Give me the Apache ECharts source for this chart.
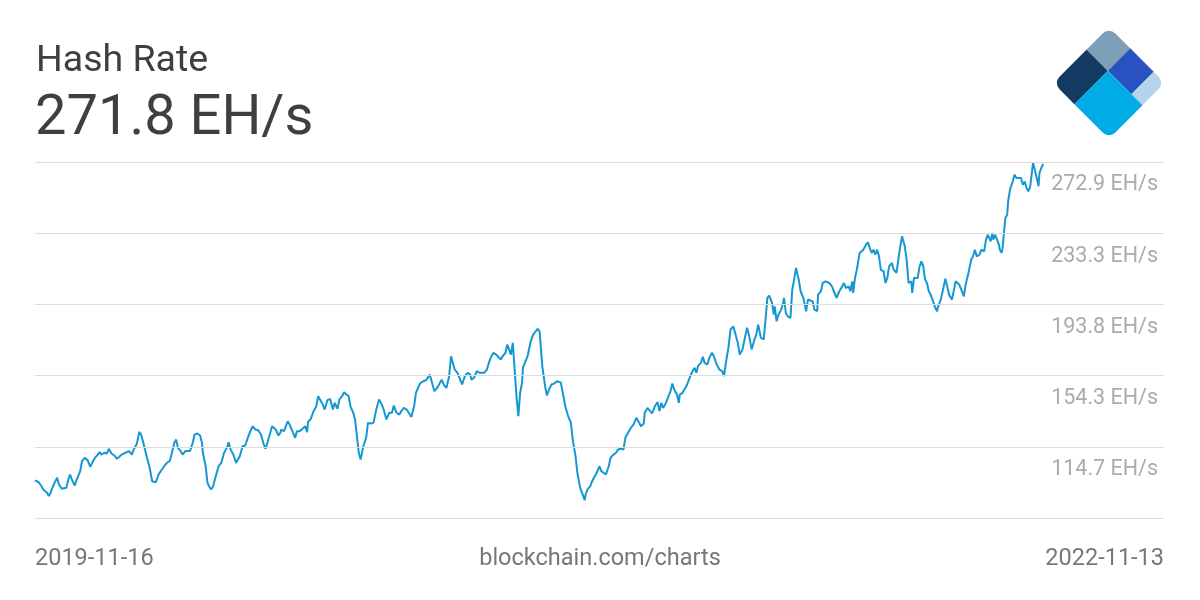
<!DOCTYPE html>
<html>
<head>
<meta charset="utf-8">
<script src="https://cdn.jsdelivr.net/npm/echarts@6/dist/echarts.min.js"></script>
<style>
html,body{margin:0;padding:0;background:#fff;}
#chart{width:1200px;height:600px;}
</style>
</head>
<body>
<div id="chart"></div>
<script>
// ---- data ----
const chartTitle = 'Hash Rate';
const currentValue = '271.8 EH/s';
const startDate = '2019-11-16';
const xLabels = ['2019-11-16', '2022-11-13'];
const sourceLabel = 'blockchain.com/charts';
// days since startDate
const dayOffsets = [0,4,5,7,9,11,13,15,17,19,22,24,26,29,31,34,36,38,40,43,46,49,51,54,57,60,62,65,68,70,72,75,78,80,83,86,89,91,94,98,100,102,105,107,110,111,113,115,117,121,124,127,129,131,134,137,140,143,146,148,151,153,155,158,160,163,165,168,171,173,176,179,181,182,185,187,189,191,193,195,199,202,205,208,210,212,215,218,220,222,225,228,230,233,236,239,242,245,248,250,252,254,257,259,261,264,266,267,270,274,276,279,282,284,287,290,293,295,296,299,302,305,307,309,312,314,317,320,323,325,328,330,333,335,337,340,342,345,347,349,351,353,356,359,361,364,367,370,373,376,378,381,384,387,389,392,395,397,400,403,405,408,411,413,416,418,421,424,426,428,430,433,436,438,441,443,446,449,451,453,455,458,461,463,466,469,472,473,476,479,482,484,487,490,492,494,497,500,502,505,507,510,512,514,516,518,520,522,524,526,528,529,531,534,537,540,542,545,547,548,550,553,555,558,560,563,566,568,570,572,575,578,581,583,586,588,591,593,596,597,599,602,604,606,609,612,614,616,619,622,624,627,630,632,635,638,640,643,646,649,652,654,657,660,661,664,667,669,672,675,677,679,681,684,686,689,691,693,696,698,699,702,705,707,709,712,715,717,719,722,724,726,729,731,734,736,739,742,745,747,749,752,754,757,759,762,764,767,770,772,774,777,780,782,784,787,790,792,794,796,799,801,802,804,806,809,811,812,814,816,819,821,823,825,828,830,833,836,838,840,843,845,848,849,852,854,857,859,861,864,866,869,872,875,877,879,882,884,886,887,889,891,894,896,898,901,903,905,907,909,911,913,915,917,920,922,924,926,929,931,934,935,937,939,940,943,945,947,950,951,953,955,957,959,961,963,965,967,969,971,973,976,978,979,982,984,987,989,991,994,996,998,1000,1002,1005,1007,1009,1012,1015,1017,1019,1021,1024,1026,1028,1029,1031,1033,1036,1038,1039,1041,1043,1045,1046,1048,1049,1051,1052,1054,1055,1057,1059,1060,1062,1064,1066,1069,1071,1073,1075,1077,1079,1080,1082,1084,1086,1088,1089,1091,1093];
// EH/s
const hashRate = [96.0,95.0,95.4,92.8,91.0,91.5,89.2,87.3,89.3,92.1,95.6,97.5,93.8,91.4,90.6,91.9,96.5,99.3,96.5,93.2,97.5,101.2,106.7,108.6,107.3,103.6,105.8,108.6,110.4,111.7,110.4,111.4,111.0,113.6,111.0,109.9,108.0,107.6,110.4,111.4,110.4,112.3,110.4,113.2,116.0,117.8,123.0,121.5,117.8,109.5,103.9,95.6,94.7,95.0,99.3,101.7,103.9,105.8,106.7,110.4,116.9,118.7,114.1,112.3,110.4,112.3,111.4,112.3,116.9,121.5,122.1,121.0,116.9,111.4,103.9,94.7,92.5,91.0,92.7,96.5,103.9,105.8,111.4,114.1,117.2,113.2,110.4,105.8,105.8,109.5,115.0,115.4,118.7,122.8,126.1,124.3,123.9,121.5,116.0,113.6,114.1,120.6,126.1,127.1,124.3,121.0,122.5,124.3,123.4,128.9,127.1,123.4,119.7,123.4,123.4,124.7,126.1,122.8,128.4,130.2,134.5,137.2,142.8,143.7,138.2,135.4,140.6,141.3,135.4,139.1,135.8,141.0,142.8,145.0,146.1,142.8,137.2,133.6,129.9,120.6,111.4,107.6,115.0,119.7,128.0,127.6,128.0,135.4,141.0,138.2,135.4,129.9,133.6,133.6,137.6,133.6,132.6,134.5,136.3,135.4,136.3,131.3,137.2,144.7,148.3,150.2,151.1,151.7,152.0,154.8,151.1,145.6,147.4,149.3,152.0,149.3,147.4,153.9,165.0,164.1,157.6,155.8,152.0,149.3,153.9,155.8,154.8,152.0,153.0,156.7,155.8,154.8,155.8,157.6,161.3,164.1,166.9,165.9,165.0,163.2,165.0,166.9,171.5,168.7,165.9,172.4,157.6,142.8,131.7,144.7,150.2,158.7,157.6,165.0,172.4,177.0,178.0,180.2,178.9,172.4,159.4,148.3,143.2,147.4,149.3,149.8,151.1,152.0,150.5,150.5,137.2,131.7,128.0,118.7,109.5,100.3,91.9,89.2,85.1,88.2,91.0,92.8,95.6,97.5,100.3,103.9,101.2,100.3,99.3,103.9,108.6,110.4,111.4,113.2,113.6,113.2,119.7,122.5,125.2,127.1,130.8,129.9,126.1,127.6,133.6,136.3,134.5,133.2,137.2,139.5,134.5,139.1,136.3,139.1,140.0,145.6,149.8,146.5,143.7,139.1,143.7,144.7,147.4,149.3,152.0,155.8,158.6,155.8,159.8,161.3,164.7,161.3,160.4,164.1,166.9,165.0,160.4,157.6,156.7,153.9,161.3,170.5,179.8,181.6,178.0,172.4,165.9,168.7,176.1,180.8,177.0,168.7,174.3,177.0,182.6,175.2,174.3,185.4,197.4,198.7,194.6,188.1,192.7,184.4,188.1,190.9,194.6,197.4,189.1,187.2,186.3,202.0,207.6,214.1,207.6,201.1,197.4,190.0,196.5,197.4,195.5,190.9,190.0,199.2,201.1,205.7,206.6,207.6,205.7,203.8,201.1,197.4,201.1,203.8,205.7,202.9,203.8,201.1,206.6,200.2,208.5,213.1,222.4,221.4,224.2,227.0,228.3,225.2,222.4,224.2,221.4,224.2,220.5,213.1,212.2,205.7,208.5,214.9,216.8,213.1,211.3,210.3,222.4,228.8,231.6,226.1,218.7,205.7,206.6,200.2,208.5,207.6,208.5,214.9,217.7,214.9,207.6,205.7,201.1,199.2,196.5,191.9,190.0,192.4,196.5,201.1,208.0,203.8,199.2,196.5,201.1,206.6,207.6,204.8,201.1,198.3,204.8,211.3,218.7,220.5,224.2,220.5,221.4,224.2,225.2,223.3,229.8,232.5,228.8,233.5,229.8,232.5,229.8,227.0,224.2,222.4,225.2,236.3,241.8,243.6,251.0,257.5,258.5,262.1,265.9,264.0,264.9,264.0,260.3,262.1,258.5,256.6,259.4,264.0,272.3,268.6,269.6,259.4,266.8,269.6,271.8];
// horizontal reference lines and their labels
const gridValues = [272.9, 233.3, 193.8, 154.3, 114.7, 75.15];
const tickLabels = ['272.9 EH/s', '233.3 EH/s', '193.8 EH/s', '154.3 EH/s', '114.7 EH/s'];

// ---- chart ----
const DAY = 86400000;
const [sy, sm, sd] = startDate.split('-').map(Number);
const t0 = Date.UTC(sy, sm - 1, sd);
const seriesData = dayOffsets.map((d, i) => [t0 + d * DAY, hashRate[i]]);

const FONT = 'Roboto, "Noto Sans", sans-serif';
const chart = echarts.init(document.getElementById('chart'), null, {renderer: 'canvas'});

const S = 79; // logo square side
const LC = {x: 1109 - S / Math.SQRT2, y: 83};

chart.setOption({
  animation: false,
  backgroundColor: '#ffffff',
  grid: {left: 35, right: 36, top: 162, height: 356, containLabel: false},
  xAxis: {
    type: 'time',
    min: t0,
    max: t0 + 1224 * DAY,
    show: false
  },
  yAxis: {
    type: 'value',
    min: gridValues[gridValues.length - 1],
    max: gridValues[0],
    show: false
  },
  series: [{
    type: 'line',
    data: seriesData,
    showSymbol: false,
    symbol: 'none',
    lineStyle: {color: '#1597d1', width: 2},
    z: 3,
    markLine: {
      silent: true,
      symbol: 'none',
      animation: false,
      precision: 2,
      lineStyle: {color: '#dcdcdc', width: 1, type: 'solid'},
      emphasis: {disabled: true},
      data: gridValues.map((v, i) => ({
        yAxis: v,
        label: {
          show: i < tickLabels.length,
          formatter: tickLabels[i] || '',
          position: 'insideEndBottom',
          distance: [6, 12],
          color: '#ababab',
          fontSize: 21.5,
          fontFamily: FONT
        }
      }))
    }
  }],
  graphic: [
    {type: 'text', left: 36, top: 43, style: {text: chartTitle, font: '37.5px ' + FONT, fill: '#3f3f3f'}},
    {type: 'text', left: 35, top: 92, style: {text: currentValue, font: '56px ' + FONT, fill: '#3f3f3f'}},
    {type: 'text', left: 35, top: 547, style: {text: xLabels[0], font: '23.5px ' + FONT, fill: '#777777'}},
    {type: 'text', right: 36, top: 547, style: {text: xLabels[1], font: '23.5px ' + FONT, fill: '#777777'}},
    {type: 'text', left: 'center', top: 547, style: {text: sourceLabel, font: '23.5px ' + FONT, fill: '#777777'}},
    {
      type: 'group',
      x: LC.x, y: LC.y, rotation: Math.PI / 4,
      children: [
        {type: 'rect', shape: {x: 0, y: 0, width: 0.6 * S, height: 0.38 * S, r: [9, 0, 0, 0]}, style: {fill: '#133a63'}},
        {type: 'rect', shape: {x: 0.6 * S, y: 0, width: 0.4 * S, height: 0.38 * S, r: [0, 9, 0, 0]}, style: {fill: '#7d9fb7'}},
        {type: 'rect', shape: {x: 0.6 * S, y: 0.38 * S, width: 0.4 * S, height: 0.42 * S, r: 0}, style: {fill: '#2951bf'}},
        {type: 'rect', shape: {x: 0.6 * S, y: 0.8 * S, width: 0.4 * S, height: 0.2 * S, r: [0, 0, 9, 0]}, style: {fill: '#b3d4ea'}},
        {type: 'rect', shape: {x: 0, y: 0.38 * S, width: 0.6 * S, height: 0.62 * S, r: [0, 0, 0, 9]}, style: {fill: '#01ace6'}}
      ]
    }
  ]
});
</script>
</body>
</html>
